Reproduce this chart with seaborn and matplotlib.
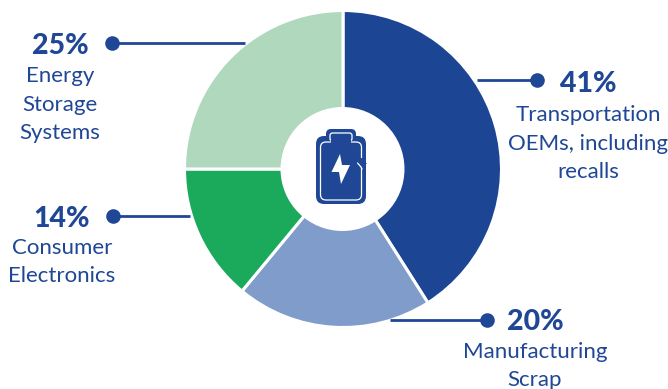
import matplotlib
matplotlib.use("Agg")
import matplotlib.pyplot as plt
from matplotlib.patches import Circle, FancyBboxPatch, Polygon, Rectangle
import seaborn as sns

# Share of each source, clockwise from twelve o'clock
sources = ["Transportation\nOEMs, including\nrecalls", "Manufacturing\nScrap", "Consumer\nElectronics", "Energy\nStorage\nSystems"]
shares = [41, 20, 14, 25]
wedge_colors = ["#1C4594", "#7F9CCB", "#1BAA5C", "#AFD8BC"]
INK = "#1F4796"

sns.set_theme(style="white")
plt.rcParams["font.family"] = ["Lato", "DejaVu Sans"]

W, H = 668, 389
fig = plt.figure(figsize=(W / 100, H / 100), dpi=100)
ax = fig.add_axes([0, 0, 1, 1])


def py(y):
    """Convert a top-down pixel row into the axes' bottom-up y."""
    return H - y


cx, cy, radius = 343, 169, 158.5
ax.pie(shares, colors=wedge_colors, startangle=90, counterclock=False,
       center=(cx, py(cy)), radius=radius, frame=True,
       wedgeprops=dict(edgecolor="white", linewidth=2.2))
ax.set_xlim(0, W)
ax.set_ylim(0, H)
ax.set_aspect("equal")
ax.axis("off")
ax.add_patch(Circle((342.5, py(cy)), 62, fc="white", ec="none", zorder=5))

# Battery icon in the hole: dark silhouette, thin white inner outline, bolt and arrow
ax.add_patch(FancyBboxPatch((326, py(142)), 30, 13, boxstyle="round,pad=0,rounding_size=5",
                            fc=INK, ec="none", zorder=6))
ax.add_patch(FancyBboxPatch((316, py(204)), 50, 68, boxstyle="round,pad=0,rounding_size=8",
                            fc=INK, ec="none", zorder=6))
ax.add_patch(FancyBboxPatch((330, py(141)), 22, 8, boxstyle="round,pad=0,rounding_size=2.5",
                            fc=INK, ec="white", lw=0.9, zorder=7))
ax.add_patch(FancyBboxPatch((320.5, py(200)), 41, 58, boxstyle="round,pad=0,rounding_size=5.5",
                            fc=INK, ec="white", lw=0.9, zorder=7))
ax.add_patch(Rectangle((331, py(143.5)), 20, 4, fc=INK, ec="none", zorder=8))
ax.add_patch(Polygon([(x, py(y)) for x, y in
                      [(340, 154), (331.5, 172), (339, 172), (341, 184), (350, 165), (342, 165)]],
                     closed=True, fc="white", ec="none", zorder=8))
ax.add_patch(Polygon([(x, py(y)) for x, y in
                      [(357, 163), (363, 168.5), (367, 163), (364, 163), (364, 158), (359, 158), (359, 163)]],
                     closed=True, fc=INK, ec="none", zorder=9))
ax.plot([357.5, 361, 362], [py(163), py(167), py(169)], color="white", lw=0.9, zorder=10)

# Leader lines: (dot x, dot y, end of line at the wedge)
leaders = [(537, 80, 477), (487, 320, 390), (113, 216, 190), (112, 43, 245)]
for dot_x, dot_y, end_x in leaders:
    ax.plot([dot_x, end_x], [py(dot_y), py(dot_y)], color=INK, lw=2, zorder=4, solid_capstyle="butt")
    ax.plot(dot_x, py(dot_y), "o", color=INK, ms=10.5, mew=0, zorder=4)

# Percentage (x, y) and category label (x, first line y)
pct_pos = [(588, 84), (535, 322), (62, 219), (60, 46)]
label_pos = [(588, 115), (535, 352), (62, 248), (60, 76)]
for share, name, (px, pyy), (lx, ly) in zip(shares, sources, pct_pos, label_pos):
    ax.text(px, py(pyy), f"{share}%", ha="center", va="center", fontsize=20.5,
            fontweight="black", color=INK)
    for i, line in enumerate(name.split("\n")):
        ax.text(lx, py(ly + i * 28.5), line, ha="center", va="center", fontsize=16,
                color=INK, clip_on=False)

fig.savefig("out.png", dpi=100, facecolor="white")
